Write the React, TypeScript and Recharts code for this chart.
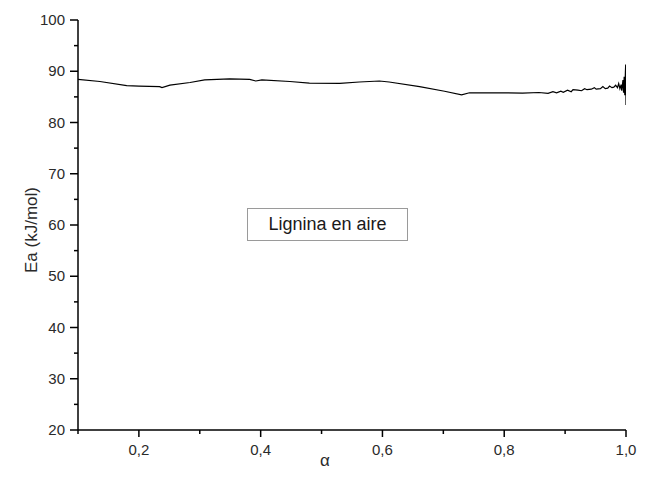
import React from "react";
import { LineChart, Line, XAxis, YAxis } from "recharts";

const alphaValues: number[] = [
  0.1, 0.136, 0.18, 0.2, 0.234, 0.238, 0.251, 0.284, 0.308, 0.349, 0.382, 0.392, 0.402,
  0.448, 0.48, 0.53, 0.562, 0.595, 0.611, 0.661, 0.702, 0.73, 0.743, 0.792, 0.83, 0.857,
  0.872, 0.88, 0.886, 0.893, 0.897, 0.904, 0.91, 0.913, 0.921, 0.927, 0.932, 0.936,
  0.943, 0.948, 0.951, 0.958, 0.962, 0.966, 0.97, 0.973, 0.977, 0.98, 0.983, 0.986,
  0.988, 0.99, 0.992, 0.993, 0.995, 0.996, 0.997, 0.998, 0.999, 0.9995, 1.0,
];
const eaValues: number[] = [
  88.4, 88.0, 87.2, 87.1, 87.0, 86.8, 87.3, 87.8, 88.3, 88.5, 88.4, 88.1, 88.3,
  88.0, 87.7, 87.65, 87.9, 88.1, 87.9, 87.0, 86.1, 85.4, 85.8, 85.8, 85.75, 85.85,
  85.7, 86.0, 85.8, 86.1, 85.9, 86.3, 86.0, 86.4, 86.3, 86.2, 86.6, 86.4,
  86.5, 86.8, 86.5, 86.6, 87.0, 86.6, 86.7, 87.1, 86.8, 86.9, 87.3, 86.8,
  87.6, 86.6, 87.4, 86.2, 88.3, 85.8, 88.9, 85.3, 89.8, 91.3, 83.4,
];

const xTicks: number[] = [0.1, 0.2, 0.3, 0.4, 0.5, 0.6, 0.7, 0.8, 0.9, 1.0];
const xLabeled: number[] = [0.2, 0.4, 0.6, 0.8, 1.0];
const yTicks: number[] = [20, 25, 30, 35, 40, 45, 50, 55, 60, 65, 70, 75, 80, 85, 90, 95, 100];
const yLabeled: number[] = [20, 30, 40, 50, 60, 70, 80, 90, 100];

const xTitle = "α";
const yTitle = "Ea (kJ/mol)";
const boxText = "Lignina en aire";

const data = alphaValues.map((a, i) => ({ alpha: a, ea: eaValues[i] }));

const FONT = "'Liberation Sans', Arial, Helvetica, sans-serif";
const TEXT = "#2a2a2a";

const isIn = (arr: number[], v: number) => arr.some((t) => Math.abs(t - v) < 1e-6);

const XTick = (props: any) => {
  const { x, y, payload } = props;
  const major = isIn(xLabeled, payload.value);
  return (
    <g>
      <line x1={x} x2={x} y1={y} y2={y + (major ? 7 : 4)} stroke="#000" strokeWidth={1.5} />
      {major && (
        <text x={x} y={y + 25} textAnchor="middle" fontSize={15} fontFamily={FONT} fill={TEXT}>
          {payload.value.toFixed(1).replace(".", ",")}
        </text>
      )}
    </g>
  );
};

const YTick = (props: any) => {
  const { x, y, payload } = props;
  const major = isIn(yLabeled, payload.value);
  return (
    <g>
      <line x1={x} x2={x - (major ? 8 : 4)} y1={y} y2={y} stroke="#000" strokeWidth={1.5} />
      {major && (
        <text x={x - 13} y={y + 5} textAnchor="end" fontSize={15} fontFamily={FONT} fill={TEXT}>
          {payload.value}
        </text>
      )}
    </g>
  );
};

export default function App() {
  return (
    <div style={{ position: "relative", width: 642, height: 478 }}>
      <LineChart
        width={642}
        height={478}
        data={data}
        margin={{ top: 12, right: 24, bottom: 6, left: 10 }}
      >
        <XAxis
          dataKey="alpha"
          type="number"
          domain={[0.1, 1.0]}
          ticks={xTicks}
          interval={0}
          allowDataOverflow
          tickLine={false}
          tickSize={0}
          tickMargin={0}
          height={50}
          axisLine={{ stroke: "#000", strokeWidth: 1.5 }}
          tick={<XTick />}
          label={{
            content: () => (
              <text x={317} y={458} textAnchor="middle" fontSize={17} fontFamily={FONT} fill={TEXT}>
                {xTitle}
              </text>
            ),
          }}
        />
        <YAxis
          dataKey="ea"
          type="number"
          domain={[20, 100]}
          ticks={yTicks}
          interval={0}
          allowDataOverflow
          tickLine={false}
          tickSize={0}
          tickMargin={0}
          width={60}
          axisLine={{ stroke: "#000", strokeWidth: 1.5 }}
          tick={<YTick />}
          label={{
            content: () => (
              <text
                x={23}
                y={222}
                transform="rotate(-90 23 222)"
                textAnchor="middle"
                dominantBaseline="central"
                fontSize={17}
                fontFamily={FONT}
                fill={TEXT}
              >
                {yTitle}
              </text>
            ),
          }}
        />
        <Line
          type="linear"
          dataKey="ea"
          stroke="#000"
          strokeWidth={1.2}
          dot={false}
          isAnimationActive={false}
        />
      </LineChart>
      <div
        style={{
          position: "absolute",
          left: 239,
          top: 200,
          width: 161,
          height: 33,
          boxSizing: "border-box",
          border: "1px solid #9a9a9a",
          background: "#fff",
          display: "flex",
          alignItems: "center",
          justifyContent: "center",
          fontFamily: FONT,
          fontSize: 18,
          color: "#1a1a1a",
        }}
      >
        {boxText}
      </div>
    </div>
  );
}
